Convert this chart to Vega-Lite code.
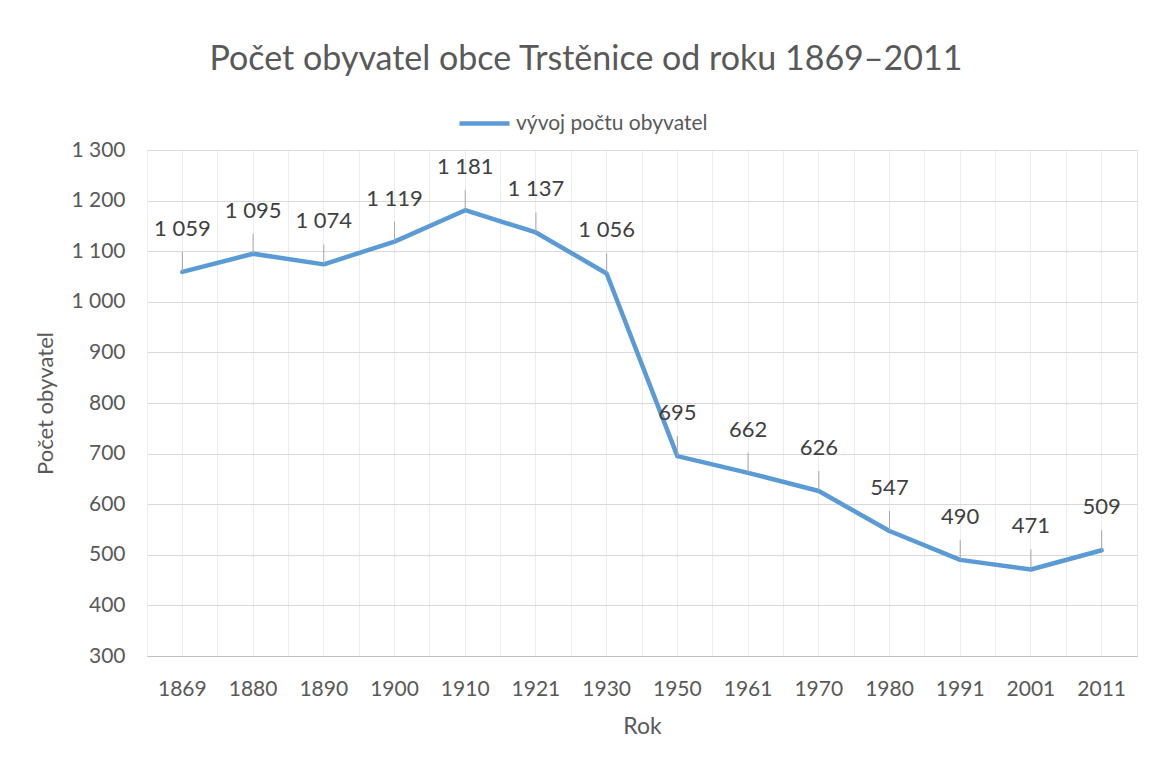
{
  "$schema": "https://vega.github.io/schema/vega-lite/v6.json",
  "width": 990,
  "height": 506,
  "autosize": {"type": "none"},
  "padding": {"left": 147, "top": 150, "right": 20, "bottom": 102},
  "background": "white",
  "title": {
    "text": "Počet obyvatel obce Trstěnice od roku 1869–2011",
    "font": "Lato",
    "fontSize": 34,
    "fontWeight": "normal",
    "color": "#595959",
    "anchor": "middle",
    "dx": -56,
    "offset": 19
  },
  "data": {
    "values": [
      {"rok": "1869", "pocet": 1059, "serie": "vývoj počtu obyvatel"},
      {"rok": "1880", "pocet": 1095, "serie": "vývoj počtu obyvatel"},
      {"rok": "1890", "pocet": 1074, "serie": "vývoj počtu obyvatel"},
      {"rok": "1900", "pocet": 1119, "serie": "vývoj počtu obyvatel"},
      {"rok": "1910", "pocet": 1181, "serie": "vývoj počtu obyvatel"},
      {"rok": "1921", "pocet": 1137, "serie": "vývoj počtu obyvatel"},
      {"rok": "1930", "pocet": 1056, "serie": "vývoj počtu obyvatel"},
      {"rok": "1950", "pocet": 695, "serie": "vývoj počtu obyvatel"},
      {"rok": "1961", "pocet": 662, "serie": "vývoj počtu obyvatel"},
      {"rok": "1970", "pocet": 626, "serie": "vývoj počtu obyvatel"},
      {"rok": "1980", "pocet": 547, "serie": "vývoj počtu obyvatel"},
      {"rok": "1991", "pocet": 490, "serie": "vývoj počtu obyvatel"},
      {"rok": "2001", "pocet": 471, "serie": "vývoj počtu obyvatel"},
      {"rok": "2011", "pocet": 509, "serie": "vývoj počtu obyvatel"}
    ]
  },
  "transform": [
    {"calculate": "replace(format(datum.pocet, ','), ',', ' ')", "as": "popisek"}
  ],
  "layer": [
    {
      "mark": {"type": "line", "strokeWidth": 4.5, "strokeCap": "round", "strokeJoin": "round"},
      "encoding": {
        "x": {
          "field": "rok",
          "type": "ordinal",
          "scale": {"type": "band", "paddingInner": 0, "paddingOuter": 0},
          "axis": {
            "orient": "bottom",
            "title": "Rok",
            "grid": true,
            "gridColor": "#ececec",
            "bandPosition": 0.5,
            "ticks": false,
            "domainColor": "#bfbfbf",
            "domainWidth": 1.2,
            "labelAngle": 0,
            "labelFont": "Lato",
            "labelFontSize": 21,
            "labelColor": "#595959",
            "labelPadding": 22,
            "titleFont": "Lato",
            "titleFontSize": 23,
            "titleFontWeight": "normal",
            "titleColor": "#595959",
            "titlePadding": 16
          }
        },
        "y": {
          "field": "pocet",
          "type": "quantitative",
          "scale": {"domain": [300, 1300], "nice": false, "zero": false},
          "axis": {
            "title": "Počet obyvatel",
            "values": [300, 400, 500, 600, 700, 800, 900, 1000, 1100, 1200, 1300],
            "labelExpr": "replace(format(datum.value, ','), ',', ' ')",
            "grid": true,
            "gridColor": "#d9d9d9",
            "domain": false,
            "ticks": false,
            "labelFont": "Lato",
            "labelFontSize": 21,
            "labelColor": "#595959",
            "labelPadding": 22,
            "titleFont": "Lato",
            "titleFontSize": 22,
            "titleFontWeight": "normal",
            "titleColor": "#595959",
            "titlePadding": 13
          }
        },
        "color": {
          "field": "serie",
          "type": "nominal",
          "scale": {"range": ["#5B9BD5"]},
          "legend": {
            "title": null,
            "orient": "none",
            "legendX": 310,
            "legendY": -54,
            "symbolType": "stroke",
            "symbolSize": 2500,
            "symbolStrokeWidth": 4.5,
            "labelFont": "Lato",
            "labelFontSize": 21,
            "labelColor": "#595959",
            "labelOffset": 4,
            "labelLimit": 400
          }
        }
      }
    },
    {
      "mark": {"type": "rule", "color": "#a6a6a6", "strokeWidth": 1, "y2Offset": -20},
      "encoding": {
        "x": {
          "field": "rok",
          "type": "ordinal",
          "axis": {
            "orient": "bottom",
            "title": null,
            "grid": true,
            "gridColor": "#ececec",
            "bandPosition": 0,
            "ticks": false,
            "labels": false,
            "domain": false
          }
        },
        "y": {"field": "pocet", "type": "quantitative"},
        "y2": {"field": "pocet"}
      }
    },
    {
      "mark": {"type": "text", "font": "Lato", "fontSize": 22, "color": "#404040", "dy": -43, "baseline": "middle"},
      "encoding": {
        "x": {"field": "rok", "type": "ordinal", "axis": null},
        "y": {"field": "pocet", "type": "quantitative"},
        "text": {"field": "popisek", "type": "nominal"}
      }
    }
  ],
  "resolve": {"axis": {"x": "independent"}},
  "config": {
    "view": {"stroke": "#e6e6e6"}
  }
}
